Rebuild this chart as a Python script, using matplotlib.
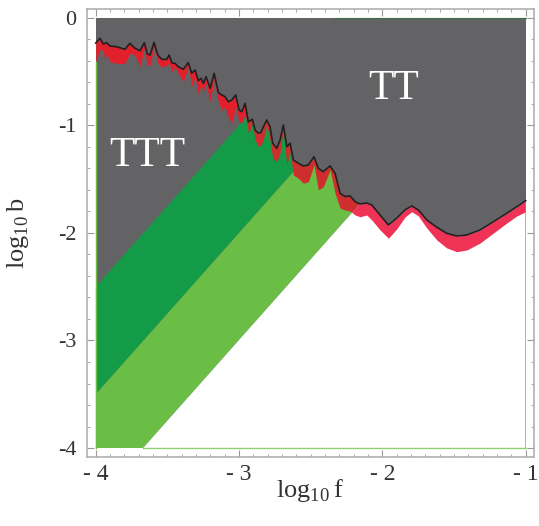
import matplotlib
matplotlib.use('Agg')
import matplotlib.pyplot as plt
from matplotlib.patches import Polygon, Rectangle
from matplotlib.ticker import MultipleLocator

plt.rcParams['font.family'] = ['Liberation Serif', 'DejaVu Serif']
plt.rcParams['mathtext.fontset'] = 'custom'
plt.rcParams['mathtext.rm'] = 'Liberation Serif'

# boundary of the TT region (black line) and lower edge of the red band
log_f = [-4.000, -3.970, -3.947, -3.935, -3.923, -3.900, -3.853, -3.819, -3.796, -3.761,
         -3.726, -3.691, -3.661, -3.640, -3.621, -3.593, -3.567, -3.539, -3.505, -3.488,
         -3.468, -3.447, -3.424, -3.389, -3.354, -3.330, -3.307, -3.284, -3.265, -3.249,
         -3.230, -3.202, -3.174, -3.144, -3.121, -3.098, -3.075, -3.051, -3.023, -3.000,
         -2.981, -2.958, -2.935, -2.907, -2.888, -2.865, -2.849, -2.830, -2.807, -2.784,
         -2.765, -2.737, -2.714, -2.691, -2.667, -2.644, -2.621, -2.586, -2.551, -2.516,
         -2.477, -2.447, -2.412, -2.365, -2.330, -2.295, -2.260, -2.225, -2.190, -2.156,
         -2.109, -2.074, -2.016, -1.958, -1.900, -1.842, -1.795, -1.749, -1.690, -1.620,
         -1.551, -1.481, -1.411, -1.318, -1.225, -1.132, -1.062, -1.000]
upper = [-0.235, -0.191, -0.244, -0.238, -0.232, -0.263, -0.270, -0.284, -0.294, -0.238,
         -0.284, -0.307, -0.232, -0.337, -0.347, -0.229, -0.347, -0.387, -0.387, -0.347,
         -0.421, -0.424, -0.455, -0.480, -0.418, -0.517, -0.486, -0.586, -0.563, -0.610,
         -0.548, -0.656, -0.517, -0.697, -0.718, -0.734, -0.781, -0.765, -0.718, -0.858,
         -0.874, -0.796, -0.967, -0.944, -1.044, -1.074, -1.069, -1.013, -0.951, -1.013,
         -1.167, -1.214, -1.137, -0.997, -1.199, -1.167, -1.323, -1.353, -1.378, -1.369,
         -1.292, -1.400, -1.431, -1.378, -1.446, -1.632, -1.662, -1.657, -1.710, -1.731,
         -1.722, -1.741, -1.834, -1.927, -1.864, -1.787, -1.750, -1.787, -1.880, -1.948,
         -2.004, -2.029, -2.020, -1.973, -1.896, -1.818, -1.757, -1.701]
lower = [-0.412, -0.294, -0.307, -0.409, -0.331, -0.409, -0.424, -0.424, -0.424, -0.331,
         -0.347, -0.455, -0.284, -0.440, -0.440, -0.270, -0.424, -0.461, -0.440, -0.424,
         -0.502, -0.455, -0.517, -0.595, -0.455, -0.641, -0.548, -0.718, -0.625, -0.688,
         -0.610, -0.781, -0.579, -0.781, -0.858, -0.827, -0.920, -0.981, -0.827, -0.967,
         -0.976, -0.888, -1.074, -0.981, -1.137, -1.199, -1.183, -1.137, -0.997, -1.137,
         -1.307, -1.338, -1.260, -1.028, -1.369, -1.245, -1.462, -1.493, -1.539, -1.524,
         -1.369, -1.601, -1.571, -1.415, -1.632, -1.771, -1.787, -1.797, -1.834, -1.850,
         -1.834, -1.880, -1.973, -2.050, -1.964, -1.852, -1.803, -1.843, -1.955, -2.066,
         -2.140, -2.175, -2.159, -2.094, -2.001, -1.908, -1.843, -1.803]

# diagonal green bands: log b = b0 + slope*(log f + 4)
slope = 1.5
dark_top = -2.5
dark_bottom = -3.5
light_foot = -3.67   # log f where the light band meets log b = -4

xticks = [-4, -3, -2, -1]
xtick_labels = ['- 4', '- 3', '- 2', '- 1']
yticks = [-4, -3, -2, -1, 0]
ytick_labels = ['-4', '-3', '-2', '-1', '0']

gray = '#636366'
dkgreen = '#149b48'
ltgreen = '#6abd45'

fig = plt.figure(figsize=(5.39, 5.26), dpi=100)
ax = fig.add_axes([0.162, 0.1312, 0.8293, 0.8511])
ax.set_xlim(-4.0586, -0.940)
ax.set_ylim(-4.083, 0.078)

def xtop(b0):
    return -4 + (0 - b0) / slope

ax.add_patch(Rectangle((-4, -4), 3, 4, color=gray, lw=0, zorder=1))

below = Polygon(list(zip(log_f, upper)) + [(-1, -4), (-4, -4)], closed=True,
                transform=ax.transData)

dark_poly = [(-4, dark_bottom), (-4, dark_top), (xtop(dark_top), 0), (xtop(dark_bottom), 0)]
c_top = light_foot + 4 / slope
light_poly = [(-4, -4), (-4, dark_bottom), (xtop(dark_bottom), 0), (c_top, 0), (light_foot, -4)]
white_poly = [(light_foot, -4), (c_top, 0), (-1, 0), (-1, -4)]
for verts, col in [(dark_poly, dkgreen), (light_poly, ltgreen), (white_poly, 'white')]:
    p = Polygon(verts, closed=True, color=col, lw=0, zorder=2)
    ax.add_patch(p)
    p.set_clip_path(below)

# red band, shaded differently over gray / green / white
gray_reg = [(-4, dark_top), (-4, 0), (xtop(dark_top), 0)]
green_reg = [(-4, dark_top), (xtop(dark_top), 0), (c_top, 0), (light_foot, -4), (-4, -4)]
for verts, col in [(gray_reg, '#e2202c'), (green_reg, '#cf2e2e'), (white_poly, '#ee3356')]:
    band = ax.fill_between(log_f, lower, upper, color=col, lw=0, zorder=3)
    band.set_clip_path(Polygon(verts, closed=True, transform=ax.transData))

ax.plot(log_f, upper, color='#231f20', lw=1.2, zorder=4)
ax.plot([light_foot, -1], [-4, -4], color='#8fd070', lw=1, zorder=4)
ax.plot([-4, -4], [lower[0], -4], color=ltgreen, lw=1, zorder=4)
ax.plot([xtop(dark_top), -1], [0, 0], color='#3d6b45', lw=0.8, zorder=4)

ax.text(-3.638, -1.375, 'TTT', color='white', fontsize=30, ha='center', va='baseline', zorder=5)
ax.text(-1.922, -0.758, 'TT', color='white', fontsize=30, ha='center', va='baseline', zorder=5)

for s in ax.spines.values():
    s.set_color('#b0b0b0')
    s.set_linewidth(1.2)
ax.set_xticks(xticks)
ax.set_xticklabels(xtick_labels)
ax.set_yticks(yticks)
ax.set_yticklabels(ytick_labels)
ax.xaxis.set_minor_locator(MultipleLocator(0.1))
ax.yaxis.set_minor_locator(MultipleLocator(0.2))
ax.tick_params(which='both', direction='in', top=True, right=True, color='#999999',
               labelcolor='#333333')
ax.tick_params(axis='y', labelsize=16, pad=8)
ax.tick_params(axis='x', labelsize=17, pad=5)
ax.tick_params(which='major', length=5, width=0.8)
ax.tick_params(which='minor', length=2.5, width=0.6)

fig.text(310 / 539, 1 - 491 / 526, r'$\mathrm{log}_{10}\,\mathrm{f}$', fontsize=19,
         color='#333333', ha='center', va='center')
fig.text(18 / 539, 1 - 233 / 526, r'$\mathrm{log}_{10}\,\mathrm{b}$', fontsize=19,
         color='#333333', ha='center', va='center', rotation=90)

fig.savefig('out.png', dpi=100)
